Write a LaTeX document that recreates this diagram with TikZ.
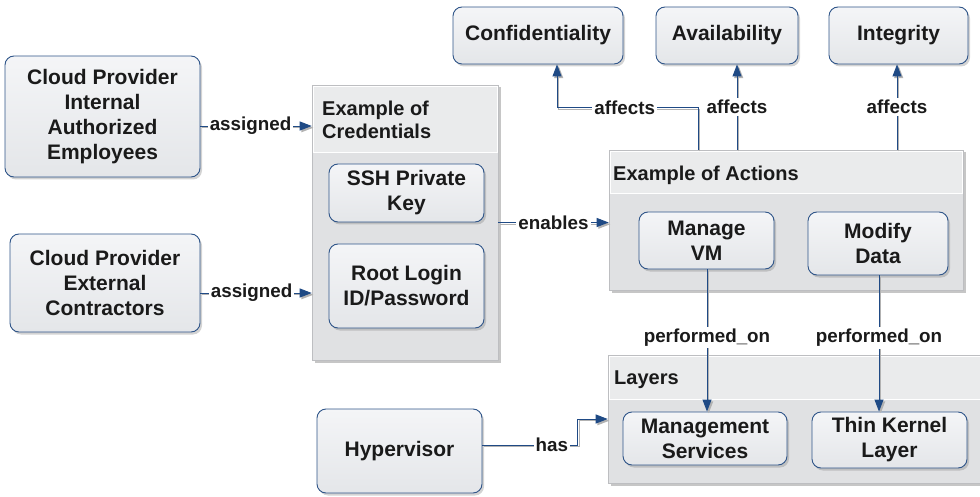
\documentclass[tikz,border=0pt]{standalone}
\usepackage{fontspec}
\setmainfont{Liberation Sans}
\usetikzlibrary{arrows.meta,shadows,calc}
\definecolor{bdr}{HTML}{2F5589}
\definecolor{arr}{HTML}{1F4A85}
\definecolor{txt}{HTML}{1A1A1A}
\definecolor{boxtop}{HTML}{F4F5F7}
\definecolor{boxbot}{HTML}{E4E6E9}
\definecolor{cont}{HTML}{E0E1E3}
\definecolor{contedge}{HTML}{BDBEC1}
\tikzset{
  box/.style={draw=bdr, line width=0.9pt, rounded corners=9pt,
    top color=boxtop, bottom color=boxbot,
    drop shadow={shadow xshift=2pt, shadow yshift=-2.5pt, opacity=0.35},
    align=center, text=txt, inner sep=0pt,
    font=\bfseries\fontsize{21}{25}\selectfont},
  container/.style={draw=contedge, line width=0.6pt, fill=cont, inner sep=0pt,
    drop shadow={shadow xshift=2.5pt, shadow yshift=-2.5pt, opacity=0.45}},
  header/.style={draw=white, line width=0.8pt, fill=white, fill opacity=0.35},
  htext/.style={align=left, text=txt, inner sep=0pt, anchor=west,
    font=\bfseries\fontsize{20}{23}\selectfont},
  conn/.style={draw=arr, line width=0.9pt,
    preaction={draw=gray!60, line width=1pt,
      transform canvas={shift={(1.7pt,-1.7pt)}}}},
  tip/.style={-{Triangle[length=12pt,width=9pt]}},
  lab/.style={fill=white, inner sep=2pt, text=txt,
    font=\bfseries\fontsize{18.8}{20}\selectfont}
}
\begin{document}
\begin{tikzpicture}[x=1pt,y=-1pt]
\useasboundingbox (0,0) rectangle (980,497);

% containers
\node[container, minimum width=186pt, minimum height=275pt] (cred) at (405,222.5) {};
\draw[header] (313,86) rectangle (497,152);
\node[htext] (credT) at (322,119.5) {Example of\\Credentials};

\node[container, minimum width=354pt, minimum height=140pt] (actions) at (786,220) {};
\draw[header] (610,151) rectangle (962,193);
\node[htext] (actT) at (613,175) {Example of Actions};

\node[container, minimum width=374pt, minimum height=128pt] (layers) at (795,419) {};
\draw[header] (609,356) rectangle (985,399);
\node[htext] (layT) at (614,380) {Layers};

% boxes
\node[box, minimum width=195pt, minimum height=121pt] (int) at (102.5,116.5)
  {Cloud Provider\\Internal\\Authorized\\Employees};
\node[box, minimum width=190pt, minimum height=98pt] (ext) at (105,283)
  {Cloud Provider\\External\\Contractors};
\node[box, minimum width=155pt, minimum height=58pt] (ssh) at (406.5,193)
  {SSH Private\\Key};
\node[box, minimum width=155pt, minimum height=84pt] (root) at (406.5,286)
  {Root Login\\ID/Password};
\node[box, minimum width=170pt, minimum height=57pt] (conf) at (538,35.5) {Confidentiality};
\node[box, minimum width=142pt, minimum height=57pt] (avail) at (727,35.5) {Availability};
\node[box, minimum width=139pt, minimum height=57pt] (integ) at (898.5,35.5) {Integrity};
\node[box, minimum width=135pt, minimum height=57pt] (mvm) at (706.5,240.5) {Manage\\VM};
\node[box, minimum width=140pt, minimum height=63pt] (mdata) at (878,243.5) {Modify\\Data};
\node[box, minimum width=164pt, minimum height=53pt] (ms) at (705,438.5) {Management\\Services};
\node[box, minimum width=155pt, minimum height=56pt] (tk) at (889.5,440) {Thin Kernel\\Layer};
\node[box, minimum width=165pt, minimum height=84pt] (hyp) at (399.5,451) {Hypervisor};

% connectors
\draw[conn, tip] ([yshift=-9.5pt]int.east) -- node[lab, pos=0.45] {assigned}
  ([yshift=-9.5pt]int.east -| cred.west);
\draw[conn, tip] ([yshift=-10pt]ext.east) -- node[lab, pos=0.46] {assigned}
  ([yshift=-10pt]ext.east -| cred.west);
\draw[conn, tip] (cred.east) -- node[lab] {enables} (cred.east -| actions.west);

\coordinate (cs) at ([xshift=19pt]conf.south);
\draw[conn, tip] ([xshift=-88pt]actions.north) -- ++(0,-42)
  -- node[lab, pos=0.52] {affects} ++(-141,0) -- (cs);
\draw[conn, tip] ([xshift=-49pt]actions.north) -- node[lab] {affects}
  ([xshift=10pt]avail.south);
\draw[conn, tip] ([xshift=111pt]actions.north) -- node[lab] {affects}
  ([xshift=-1.5pt]integ.south);

\draw[conn, tip] ([xshift=0.5pt]mvm.south) -- node[lab, pos=0.48] {performed\_on}
  ([xshift=0.5pt]mvm.south |- ms.north);
\draw[conn, tip] ([xshift=1pt]mdata.south) -- node[lab, pos=0.46] {performed\_on}
  ([xshift=1pt]mdata.south |- tk.north);

\draw[conn, tip] ([yshift=6pt]hyp.east) -- node[lab, pos=0.73] {has} ++(95,0)
  |- (layers.west);
\end{tikzpicture}
\end{document}
